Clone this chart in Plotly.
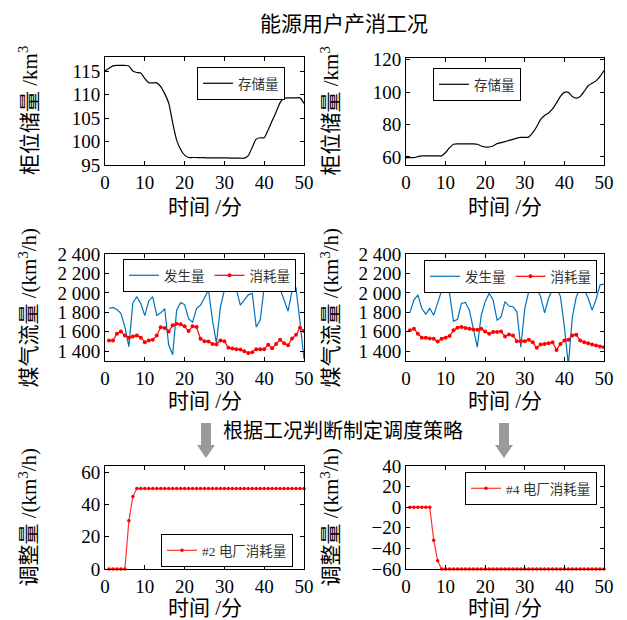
import plotly.graph_objects as go

W, H = 627, 620

# ---------------- data ----------------
minutes_full = list(range(0, 51))
minutes = list(range(1, 51))

storage_left = [115.0, 115.6, 116.1, 116.2, 116.2, 116.2, 116.1, 115.0, 114.7, 114.6,
                113.4, 112.5, 112.5, 112.5, 111.7, 110.2, 108.2, 104.0, 100.3, 98.3,
                97.1, 96.6, 96.6, 96.6, 96.55, 96.55, 96.5, 96.5, 96.5, 96.5,
                96.5, 96.5, 96.45, 96.45, 96.45, 96.45, 97.0, 98.8, 100.5, 100.8,
                100.8, 102.5, 104.4, 106.3, 108.3, 109.2, 109.3, 109.3, 109.3, 109.3,
                108.1]

storage_right = [59.6, 59.6, 59.6, 60.2, 60.6, 60.6, 60.6, 60.6, 60.6, 60.6,
                 62.7, 65.7, 67.8, 68.0, 68.0, 68.0, 68.0, 68.0, 67.8, 66.7,
                 66.1, 66.1, 66.7, 68.2, 68.8, 69.4, 70.2, 70.8, 71.6, 72.0,
                 72.0, 72.2, 74.9, 78.6, 83.1, 85.5, 87.1, 89.6, 93.3, 97.3,
                 99.8, 99.8, 97.3, 96.3, 97.3, 100.4, 103.9, 105.5, 106.9, 109.6,
                 113.3]

gen_left = [1840, 1850, 1830, 1790, 1650, 1448, 1900, 1960, 1890, 1767,
            1920, 1960, 1767, 1795, 1837, 1466, 1365, 1823, 1900, 1880,
            1736, 1700, 1840, 1875, 1950, 2030, 1720, 1483, 1857, 2030,
            2124, 2110, 2038, 1875, 1927, 1980, 1996, 1650, 1720, 2058,
            2038, 2058, 2038, 2038, 1927, 1812, 2024, 2048, 1700, 1320]

cons_left = [1511, 1511, 1580, 1604, 1563, 1540, 1553, 1563, 1540, 1494,
             1511, 1518, 1563, 1646, 1640, 1604, 1667, 1684, 1677, 1656,
             1608, 1656, 1650, 1528, 1504, 1500, 1476, 1470, 1511, 1504,
             1435, 1428, 1420, 1417, 1400, 1383, 1390, 1420, 1420, 1420,
             1466, 1431, 1476, 1518, 1483, 1462, 1532, 1570, 1643, 1608]

gen_right = [1800, 1927, 1980, 1840, 1781, 1840, 1771, 1910, 2024, 2055,
             1996, 1708, 1729, 1892, 1903, 1823, 1615, 1442, 1771, 1910,
             1996, 1927, 1719, 1753, 1910, 1865, 1858, 1806, 1442, 1840,
             2013, 2065, 2048, 1962, 1795, 1945, 2038, 2058, 1962, 1650,
             1260, 1750, 1960, 2058, 2038, 1945, 1823, 1935, 2083, 2090]

cons_right = [1615, 1632, 1580, 1540, 1540, 1532, 1528, 1500, 1528, 1540,
              1556, 1615, 1643, 1650, 1640, 1632, 1625, 1622, 1632, 1604,
              1580, 1598, 1598, 1604, 1553, 1573, 1563, 1504, 1504, 1504,
              1518, 1494, 1435, 1470, 1476, 1483, 1494, 1414, 1476, 1511,
              1518, 1563, 1570, 1511, 1494, 1483, 1470, 1459, 1448, 1442]

adj_plant2 = [0, 0, 0, 0, 0, 30, 45, 50, 50, 50,
              50, 50, 50, 50, 50, 50, 50, 50, 50, 50,
              50, 50, 50, 50, 50, 50, 50, 50, 50, 50,
              50, 50, 50, 50, 50, 50, 50, 50, 50, 50,
              50, 50, 50, 50, 50, 50, 50, 50, 50, 50]

adj_plant4 = [0, 0, 0, 0, 0, 0, -32, -52, -60, -60,
              -60, -60, -60, -60, -60, -60, -60, -60, -60, -60,
              -60, -60, -60, -60, -60, -60, -60, -60, -60, -60,
              -60, -60, -60, -60, -60, -60, -60, -60, -60, -60,
              -60, -60, -60, -60, -60, -60, -60, -60, -60, -60]

x_ticks = [0, 10, 20, 30, 40, 50]
yt_storage_left = [95, 100, 105, 110, 115]
yt_storage_right = [60, 80, 100, 120]
yt_flow = [1400, 1600, 1800, 2000, 2200, 2400]
yt_flow_text = ["1 400", "1 600", "1 800", "2 000", "2 200", "2 400"]
yt_adj_left = [0, 20, 40, 60]
yt_adj_right = [-60, -40, -20, 0, 20, 40]
yt_adj_right_text = ["\u221260", "\u221240", "\u221220", "0", "20", "40"]

# ---------------- helpers ----------------
def px(x):
    return x / W

def py(y):
    return 1 - y / H

NUM_FONT = "Liberation Serif, Noto Sans CJK SC"
CJK_FONT = "Liberation Serif, Noto Sans CJK SC"
BLUE = "#0072BD"
RED = "#FF0000"
TICK_SIZE = 19

fig = go.Figure()

# panel pixel boxes: (x0, x1, y0_top, y1_bottom)
boxes = [
    (105, 304, 57, 165),
    (406, 604, 58, 165),
    (105, 304, 254, 361),
    (406, 604, 254, 361),
    (105, 304, 466, 569),
    (406, 604, 466, 569),
]

# traces
fig.add_trace(go.Scatter(x=minutes_full, y=storage_left, mode="lines", name="存储量",
                         line=dict(color="black", width=1.2, shape="spline", smoothing=0.6),
                         xaxis="x", yaxis="y", legend="legend"))
fig.add_trace(go.Scatter(x=minutes_full, y=storage_right, mode="lines", name="存储量",
                         line=dict(color="black", width=1.2, shape="spline", smoothing=0.6),
                         xaxis="x2", yaxis="y2", legend="legend2"))
fig.add_trace(go.Scatter(x=minutes, y=gen_left, mode="lines", name="发生量",
                         line=dict(color=BLUE, width=1.2), xaxis="x3", yaxis="y3", legend="legend3"))
fig.add_trace(go.Scatter(x=minutes, y=cons_left, mode="lines+markers", name="消耗量",
                         line=dict(color=RED, width=1.2), marker=dict(size=4, color=RED),
                         xaxis="x3", yaxis="y3", legend="legend3"))
fig.add_trace(go.Scatter(x=minutes, y=gen_right, mode="lines", name="发生量",
                         line=dict(color=BLUE, width=1.2), xaxis="x4", yaxis="y4", legend="legend4"))
fig.add_trace(go.Scatter(x=minutes, y=cons_right, mode="lines+markers", name="消耗量",
                         line=dict(color=RED, width=1.2), marker=dict(size=4, color=RED),
                         xaxis="x4", yaxis="y4", legend="legend4"))
fig.add_trace(go.Scatter(x=minutes, y=adj_plant2, mode="lines+markers", name="#2 电厂消耗量",
                         line=dict(color="#FF3333", width=1.2), marker=dict(size=3.5, color=RED),
                         xaxis="x5", yaxis="y5", legend="legend5", cliponaxis=False))
fig.add_trace(go.Scatter(x=minutes, y=adj_plant4, mode="lines+markers", name="#4 电厂消耗量",
                         line=dict(color="#FF3333", width=1.2), marker=dict(size=3.5, color=RED),
                         xaxis="x6", yaxis="y6", legend="legend6", cliponaxis=False))

yranges = [[95, 118], [55, 121], [1300, 2400], [1300, 2400], [0, 64], [-60, 40]]
yticks = [
    (yt_storage_left, [str(v) for v in yt_storage_left]),
    (yt_storage_right, [str(v) for v in yt_storage_right]),
    (yt_flow, yt_flow_text),
    (yt_flow, yt_flow_text),
    (yt_adj_left, [str(v) for v in yt_adj_left]),
    (yt_adj_right, yt_adj_right_text),
]

layout = dict(
    template="none",
    width=W, height=H, autosize=False,
    margin=dict(l=0, r=0, t=0, b=0, pad=0, autoexpand=False),
    paper_bgcolor="white", plot_bgcolor="white",
    showlegend=True,
    font=dict(family=NUM_FONT, size=TICK_SIZE, color="black"),
)

for i, (x0, x1, y0, y1) in enumerate(boxes):
    n = "" if i == 0 else str(i + 1)
    layout["xaxis" + n] = dict(
        domain=[px(x0), px(x1)], anchor="y" + n, range=[0, 50], automargin=False,
        tickvals=x_ticks, ticktext=[str(v) for v in x_ticks],
        ticks="inside", ticklen=4, tickcolor="black",
        showline=True, linecolor="black", linewidth=1, mirror="ticks",
        showgrid=False, zeroline=False,
        tickfont=dict(family=NUM_FONT, size=TICK_SIZE, color="black"),
    )
    tv, tt = yticks[i]
    layout["yaxis" + n] = dict(
        domain=[py(y1), py(y0)], anchor="x" + n, range=yranges[i], automargin=False,
        tickvals=tv, ticktext=tt,
        ticks="inside", ticklen=4, tickcolor="black",
        showline=True, linecolor="black", linewidth=1, mirror="ticks",
        showgrid=False, zeroline=False,
        tickfont=dict(family=NUM_FONT, size=TICK_SIZE, color="black"),
    )

# legends (right edge, top edge in pixels, orientation)
legend_pos = [
    (285, 67, "v"),
    (521, 68, "v"),
    (296, 259, "h"),
    (597, 260, "h"),
    (293, 534, "v"),
    (597, 472, "v"),
]
for i, (xr, yt, ori) in enumerate(legend_pos):
    n = "legend" if i == 0 else "legend" + str(i + 1)
    layout[n] = dict(
        x=px(xr), y=py(yt), xanchor="right", yanchor="top",
        orientation=ori, bgcolor="white", bordercolor="black", borderwidth=1,
        font=dict(family=CJK_FONT, size=13.5, color="#333"),
        itemwidth=30, tracegroupgap=0,
    )

fig.update_layout(**layout)

# titles / annotations
def anno(text, x, y, size=21, angle=0, family=CJK_FONT):
    return dict(text=text, x=px(x), y=py(y), xref="paper", yref="paper",
                xanchor="center", yanchor="middle", textangle=angle, showarrow=False,
                font=dict(family=family, size=size, color="black"))

annos = [anno("能源用户产消工况", 344, 24),
         anno("根据工况判断制定调度策略", 343, 429, size=20, family="Noto Sans CJK SC")]

ytitles = ["柜位储量 /km<sup>3</sup>", "柜位储量 /km<sup>3</sup>",
           "煤气流量 /(km<sup>3</sup>/h)", "煤气流量 /(km<sup>3</sup>/h)",
           "调整量 /(km<sup>3</sup>/h)", "调整量 /(km<sup>3</sup>/h)"]
xtitle_y = [207, 207, 401, 401, 608, 608]
for i, (x0, x1, y0, y1) in enumerate(boxes):
    cx = 28 if i % 2 == 0 else 330
    annos.append(anno(ytitles[i], cx, (y0 + y1) / 2, angle=-90))
    annos.append(anno("时间 /分", (x0 + x1) / 2, xtitle_y[i]))
fig.update_layout(annotations=annos)

# grey down arrows
def arrow_path(cx, ytop, ybot, shaft=5, head=9, headh=13):
    pts = [(cx - shaft, ytop), (cx + shaft, ytop), (cx + shaft, ybot - headh),
           (cx + head, ybot - headh), (cx, ybot), (cx - head, ybot - headh),
           (cx - shaft, ybot - headh)]
    d = "M " + " L ".join(f"{px(a):.5f},{py(b):.5f}" for a, b in pts) + " Z"
    return d

shapes = []
for cx in (206, 504):
    shapes.append(dict(type="path", path=arrow_path(cx, 423, 458), xref="paper", yref="paper",
                       fillcolor="#9a9a9a", line=dict(width=0)))
fig.update_layout(shapes=shapes)

fig.write_html("out.html", config={"displayModeBar": False},
               post_script="document.body.style.margin='0px';")
